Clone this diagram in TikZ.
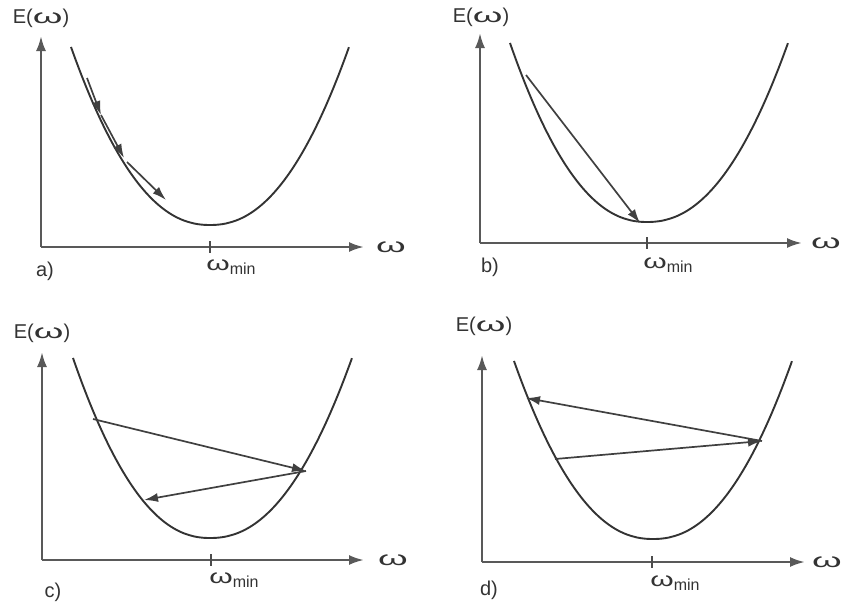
\documentclass[tikz,border=0pt]{standalone}
\usepackage{fontspec}
\setmainfont{Liberation Sans}
\usetikzlibrary{arrows.meta}
\newcommand\om{\scalebox{1.9}[1]{ω}}
\newcommand\omsub{\scalebox{1.5}[1]{ω}}
\newcommand\ommin{\omsub\raisebox{-0.4ex}{\fontsize{16}{18}\selectfont min}}
\begin{document}
\begin{tikzpicture}[x=1pt,y=-1pt,
  axis/.style={line width=2.4pt,draw=black!65,-{Latex[length=15pt,width=10pt]}},
  curve/.style={line width=1.9pt,draw=black!80},
  step arrow/.style={line width=1.7pt,draw=black!75,-{Latex[length=14pt,width=9pt]}},
  lbl/.style={font=\fontsize{20}{22}\selectfont,inner sep=0pt,text=black!80},
  tick/.style={line width=1.6pt,draw=black!70}]
\useasboundingbox (0,0) rectangle (842,608);
\newcommand\Ecurve[5]{%
  \draw[curve] plot[domain=-1:1,samples=121,smooth]
   ({#1+((\x<0)*#3+(\x>=0)*#4)*\x},{#2-#5*pow(abs(\x)+0.0001,2.2)});}
% ---------- panel a
\coordinate (aO) at (41,247);
\coordinate (aY) at (41,36);
\coordinate (aX) at (364,247);
\draw[axis] (aO) -- (aY);
\draw[axis] (aO) -- (aX);
\draw[tick] (210,241) -- (210,253);
\Ecurve{210}{225}{139}{139}{178}
\node[lbl] (aE) at (41,18) {E(\om)};
\node[lbl] (aw) at (391,247) {\om};
\node[lbl] (awm) at (231,267) {\ommin};
\node[lbl] (al) at (45,271) {a)};
\coordinate (a1) at (87,78);
\coordinate (a2) at (101,115);
\coordinate (a3) at (124,158);
\coordinate (a3b) at (127,162);
\coordinate (a4) at (166,200);
\draw[step arrow] (a1) -- (a2);
\draw[step arrow] (a2) -- (a3);
\draw[step arrow] (a3b) -- (a4);
% ---------- panel b
\coordinate (bO) at (480,243);
\coordinate (bY) at (480,33);
\coordinate (bX) at (802,243);
\draw[axis] (bO) -- (bY);
\draw[axis] (bO) -- (bX);
\draw[tick] (647,237) -- (647,249);
\Ecurve{647}{222}{137}{141}{179}
\node[lbl] (bE) at (481,17) {E(\om)};
\node[lbl] (bw) at (826,243) {\om};
\node[lbl] (bwm) at (668,265) {\ommin};
\node[lbl] (bl) at (490,267) {b)};
\coordinate (b1) at (526,75);
\coordinate (b2) at (640,223);
\draw[step arrow] (b1) -- (b2);
% ---------- panel c
\coordinate (cO) at (42,560);
\coordinate (cY) at (42,352);
\coordinate (cX) at (364,560);
\draw[axis] (cO) -- (cY);
\draw[axis] (cO) -- (cX);
\draw[tick] (211,554) -- (211,566);
\Ecurve{210}{538}{137}{142}{180}
\node[lbl] (cE) at (42,333) {E(\om)};
\node[lbl] (cw) at (393,560) {\om};
\node[lbl] (cwm) at (234,580) {\ommin};
\node[lbl] (cl) at (53,592) {c)};
\coordinate (c1) at (93,419);
\coordinate (c2) at (306,471);
\coordinate (c3) at (144,500);
\draw[step arrow] (c1) -- (c2);
\draw[step arrow] (c2) -- (c3);
% ---------- panel d
\coordinate (dO) at (482,562);
\coordinate (dY) at (482,355);
\coordinate (dX) at (805,562);
\draw[axis] (dO) -- (dY);
\draw[axis] (dO) -- (dX);
\draw[tick] (652,556) -- (652,568);
\Ecurve{653}{539}{139}{139}{178}
\node[lbl] (dE) at (484,326) {E(\om)};
\node[lbl] (dw) at (827,562) {\om};
\node[lbl] (dwm) at (675,583) {\ommin};
\node[lbl] (dl) at (489,590) {d)};
\coordinate (d1) at (555,459);
\coordinate (d2) at (762,441);
\coordinate (d3) at (526,398);
\draw[step arrow] (d1) -- (d2);
\draw[step arrow] (d2) -- (d3);
\end{tikzpicture}
\end{document}
